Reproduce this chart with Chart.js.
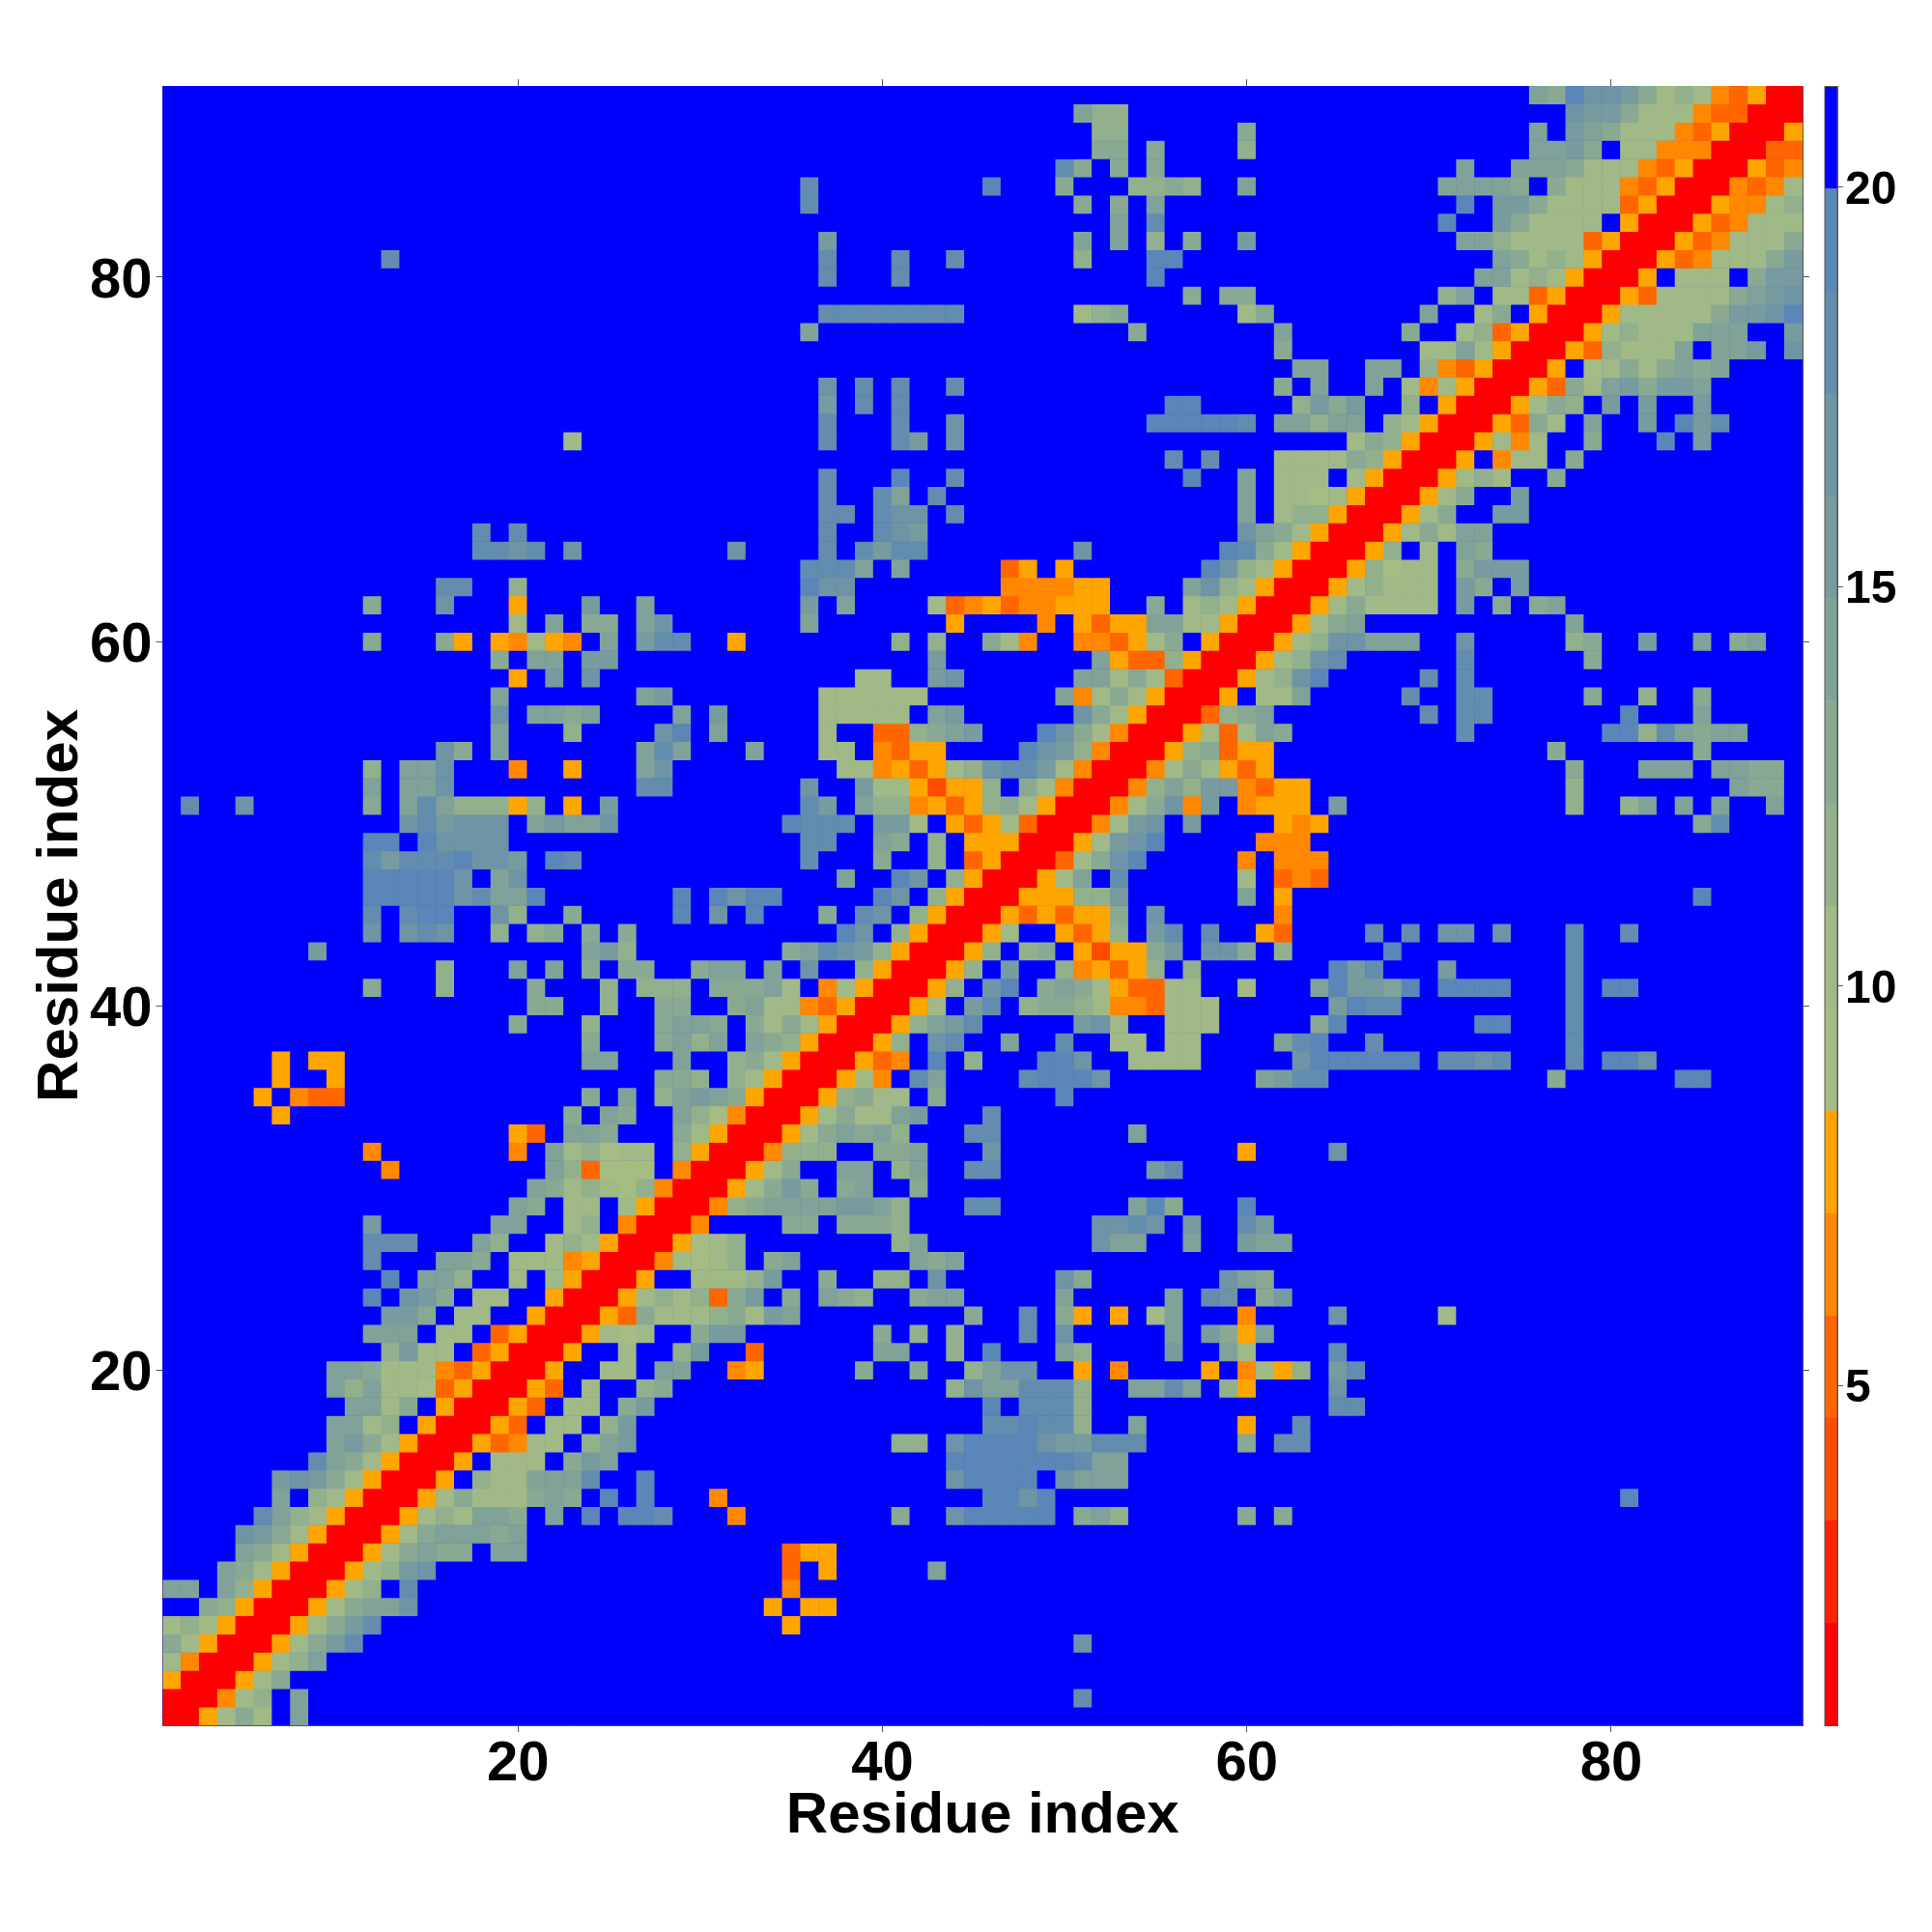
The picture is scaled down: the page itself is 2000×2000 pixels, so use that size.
<!DOCTYPE html>
<html>
<head>
<meta charset="utf-8">
<title>Residue contact map</title>
<script src="https://cdn.jsdelivr.net/npm/chart.js@4/dist/chart.umd.min.js"></script>
<style>
  html, body { margin: 0; padding: 0; background: #fff; }
  #wrap { position: relative; width: 2000px; height: 2000px; }
  #mapChart { position: absolute; left: 0; top: 0; }
  #barChart { position: absolute; left: 1880px; top: 0; }
</style>
</head>
<body>
<div id="wrap">
  <canvas id="mapChart" width="2000" height="2000"></canvas>
  <canvas id="barChart" width="120" height="2000"></canvas>
</div>
<script>
var axisTitle = 'Residue index';
var axisTicks = [20, 40, 60, 80];
var barTicks = [5, 10, 15, 20];

// colour bar bins, bottom to top
var barEdges = [0.74, 2.02, 3.31, 4.59, 5.87, 7.15, 8.44, 9.72, 11, 12.28, 13.57, 14.85, 16.13, 17.41, 18.7, 19.98, 21.26];
var barColors = ['#ff0000', '#ff2400', '#ff4b00', '#ff6600', '#ff8800', '#ffa500', '#a5bd83', '#a0b987',
                 '#93b08d', '#8aa992', '#80a298', '#779b9e', '#6e94a6', '#638dae', '#5a86b8', '#0000ff'];

// one string per residue, bottom row first: "column:bins" (hex bin index), anything not listed is the top bin
var rowBins = [
  '1:005797 8:a',
  '1:000478 8:a 51:d',
  '1:5000579',
  '1:74000578a',
  '1:975000579bd 51:c',
  '1:7875000579bd 35:5',
  '3:985000579aac 34:5 36:55',
  '1:aa 4:a85000578 14:d 35:4',
  '4:a975000578bc 35:3 37:5 43:a',
  '5:a975000579a99 19:aa 35:355',
  '5:cb975000579aaa9a',
  '6:da8750005787aa9 22:a 24:e 26:eed 32:4 41:9 44:ceeeee 51:9a8 60:9 62:9',
  '7:a 9:8750005797779a9 25:e 27:e 31:4 46:eece 81:e',
  '7:bcb9750005 18:877aaad 27:e 44:ceeee 50:caaa',
  '9:da9750005 19:777 23:9ba 44:eeeeeeedaa',
  '10:ab97500053477 24:8ab 41:88 44:ceeeecbbddd 60:9 62:dd',
  '10:aa78 15:500053 22:77 25:8b 46:ddedd8 54:a 60:5 63:d',
  '11:aa79 16:500053 23:77 26:9b 46:e 48:ddd8 65:dd',
  '10:a8a7763500053 24:7 27:89 44:8caaddd8 54:aada 59:85 65:c',
  '10:aa97774350005 25:77 28:aa 32:45 39:9 42:9 45:8acc 51:5 53:4 58:5 60:4758 65:bd',
  '13:8b77 18:350005 26:7 29:8b 33:3 40:aa 44:8 46:e 50:a8 56:b 59:a7 65:d',
  '12:aaa 16:77 19:350005767 30:9bb 40:9 42:8 44:8 48:d 50:c 56:a 58:b95a',
  '13:bb9 17:77 21:5000539777897ba 45:9 48:d 50:95 53:5 55:7a 60:4 65:c 71:7',
  '12:e 14:cb9 18:77 22:50005787839b 35:9 37:a98 42:9aa 50:a 56:a 58:dc 61:9b',
  '13:e 15:aa8 20:7 22:750005 30:7778b 37:9 40:88 43:c 50:c9 59:ca9',
  '12:d 16:aa9 20:7774500047678 34:9a 42:a9a',
  '12:ddd 18:a8 22:78750005678 41:8a 52:caa 57:a 60:baa',
  '12:b 19:aa 23:78 26:40004 35:99 38:9998 52:ccdc 57:b 60:db',
  '20:a9 23:77 26:75000489aaaabba8 45:dd 54:ae9 60:e',
  '21:a9787684000579b9 38:9a 42:9',
  '13:4 22:a83666 29:4000579 38:aa 41:8a 45:dd 55:bd',
  '12:4 20:4 22:a78677 29:850004888 40:99a 46:c 60:5 65:c',
  '20:53 23:aa9 29:975000579a9a8 45:dd 54:a',
  '7:5 23:9 25:a9 29:a86400057977ab 46:d',
  '6:5 8:433 24:9 26:a 28:8aba9500058977 43:9 50:e',
  '7:5 10:5 28:998 32:875000574 42:da 48:deeec 61:abdd 77:9 84:ee',
  '7:5 9:55 24:aa 29:a 32:8975000534 43:e 45:8 49:eec 54:7777 63:ceeeeee 71:ddcd 78:d 80:eec',
  '24:9 28:9a8a 33:a98500058 43:cd 47:a 50:d 53:77 56:77 62:ade 67:d 78:d',
  '20:9 24:8 28:9aa9 33:9797500058abd 51:bc7 56:777 64:9e 73:ee 78:d',
  '21:99 25:8 28:99 32:9a7743500057 45:bd 48:89987443777 65:bedd 78:d',
  '12:9 16:8 21:9 25:8 27:888 31:999a7 37:47500058 46:ce 49:9a9753377 60:7 64:aebbae 71:eeee 78:d 80:ee',
  '16:8 20:a 22:a 24:9 26:99 30:9aa 34:a 36:c 39:8500058 47:b 50:845358 57:8 65:ebd 71:b 78:d',
  '9:b 24:ab8 35:9adcb8500058 48:89 51:52559b 58:cc9 62:8 68:e 78:d',
  '12:c 14:cdc 19:8 21:89 24:9 26:9 38:ec 41:8500057 50:5358 55:bd 58:d 61:53 67:d 69:d 71:cc 74:c 78:d 81:d',
  '12:d 14:dee 19:c8 23:9 29:e 31:c 33:e 37:9 39:dc 42:850005353559 55:c 62:4',
  '12:eeeeecdaae 29:e 31:ecee 40:ec 43:8500055588b 60:a 62:5 85:e',
  '12:eeeeec 19:ac 38:a 41:ec 44:8500057a 53:d 60:7 62:343',
  '12:dbdddeccb 22:ed 36:d 40:9 43:8 45:35000379ce 60:4 62:444',
  '12:ee 15:ecccc 36:dd 40:a9 43:8 45:55500057bce 61:444',
  '14:cdbccc 21:abaac 35:eddd 40:bb7 44:5357300047bc 57:b 62:545 85:9d',
  '2:d 5:c 12:9 14:ada88858 23:5 25:b 36:db 39:a8845358975000479c4b 60:4555 65:b 78:8 81:8a 84:a 86:a 89:a',
  '12:a 14:aac 27:dd 36:c 39:b7752558 48:97400048a8bb4355 78:8 87:a99',
  '12:8 14:aac 20:4 23:5 27:ac 38:77453578cddb740004797535 78:9 82:aaa 86:aa99',
  '16:c9 19:a 27:ada 33:a 37:77 40:4355 48:ecb84000589355 77:9 85:9',
  '19:a 23:8 28:ce 31:a 37:7 40:3389ab 49:ec9740005737a9 72:d 80:ee8da9aa',
  '19:c 21:aa9a 29:a 31:b 37:77777 43:ab 51:c975000389a 70:d 72:dd 81:e 85:a',
  '19:a 27:ab 37:777777 50:a479750005 61:77a 69:d 72:dd 79:9 82:8 85:9',
  '20:5 22:b 24:c 39:77 43:bc 51:aa7973000578ce 70:d 72:d',
  '19:9 21:aa 24:bb 43:b 52:a53385000578cd 72:d 79:9',
  '12:9 16:95 19:54754 25:a 27:bdd 32:5 41:8 43:8 46:974 51:443579 58:5000578ccaaa 72:c 78:89 82:b 85:a 87:9a',
  '20:7 22:a 24:99 27:ac 36:a 44:5 49:4 51:5355aa775000579a 78:a',
  '12:9 16:c 20:5 24:b 27:a 36:b 38:a 43:7345344555 55:9 57:78750005797777 72:b 74:9 76:9a',
  '16:dd 20:8 36:ecc 47:444455 57:ac875000578777 72:b9 75:b',
  '36:ddda 41:a 47:35 50:5 58:ec87500058677 72:9bbb',
  '18:ddcd 23:c 32:c 37:d 39:dbdd 51:c 59:ed97500058 70:7 72:a9',
  '18:d 20:d 37:d 40:dcb 60:ca9750005797aa',
  '37:dd 40:dcc 44:d 60:a 62:7885000579 74:bb',
  '37:d 40:da 43:d 60:a 62:77675000579 75:b',
  '37:d 41:e 44:d 57:e 60:a 62:777 66:750005787 77:9',
  '56:d 58:d 62:77779850005 74:477 78:9',
  '23:7 37:d 41:db 44:c 66:79850005747 79:9 83:e 85:b',
  '37:d 41:d 44:c 55:eeeeed 62:aa8aa 68:8750005397 79:a 82:b 84:ebd',
  '37:b 39:d 41:d 56:ee 63:8b9b 69:8 71:50005798 80:b 82:b 85:b',
  '37:c 39:d 41:d 44:d 62:9 64:a 67:a 69:74750005397ab9bba',
  '63:aa 67:aa 70:84350005 79:67979a9a',
  '62:9 70:77a75000538777a 86:aab 90:c',
  '36:a 54:9 62:a 69:9 72:7835000578777aaa 90:b',
  '37:dddddddd 51:789 60:79 70:a 73:79 76:50005777779bbce',
  '57:9 59:99 71:8a 74:77350005377779abc',
  '37:d 41:d 55:e 73:aa78750005 84:777 88:9bb',
  '13:d 37:d 41:d 44:d 51:8 55:ee 74:a978750005347779b',
  '37:b 51:a 53:a 55:8 57:9 60:b 72:aa87777350005347779',
  '53:a 55:d 71:e 74:b97777 81:5000534777',
  '36:d 51:9 53:9 55:a 72:e 74:bb977773500054478',
  '36:d 46:e 50:9 54:8898 60:a 71:aaaa9 77:97774350004347',
  '50:d9 53:9 55:9 72:a 75:aaa9777435000534',
  '52:99 55:9 60:8 76:aab9 81:7744400033',
  '52:88 60:9 76:a 78:ba97774350005',
  '51:a88 78:cbb9777433000',
  '76:a9eccb978743500'
];

var fontFamily = '"Liberation Sans", Arial, sans-serif';
var frameColor = '#555';

function getCells() {
  var points = [];
  var colors = [];
  rowBins.forEach(function(row, r) {
    var bins = [];
    for (var i = 0; i < rowBins.length; i++) {
      bins.push(15);
    }
    row.split(' ').forEach(function(group) {
      var parts = group.split(':');
      var start = parseInt(parts[0], 10) - 1;
      for (var k = 0; k < parts[1].length; k++) {
        bins[start + k] = parseInt(parts[1][k], 16);
      }
    });
    bins.forEach(function(bin, c) {
      points.push({x: c + 1, y: r + 1});
      colors.push(barColors[bin]);
    });
  });
  return {points: points, colors: colors};
}

function setAxisTicks(values) {
  return function(scale) {
    scale.ticks = values.map(function(v) { return {value: v}; });
  };
}

function axisGrid() {
  return {drawOnChartArea: false, drawTicks: true, tickLength: 7, tickColor: frameColor, tickWidth: 1};
}

// an empty first line pushes a vertical axis label down by half the line height
function lowerLabel(value) {
  return ['', String(value)];
}

function getMapChart() {
  var cells = getCells();
  var labelFont = {family: fontFamily, size: 58, weight: 'bold'};
  var titleFont = {family: fontFamily, size: 60, weight: 'bold'};
  var ctx = document.getElementById('mapChart').getContext('2d');

  new Chart(ctx, {
    type: 'scatter',
    data: {
      datasets: [{
        data: cells.points,
        pointStyle: 'rect',
        pointBackgroundColor: cells.colors,
        pointBorderWidth: 0,
        // cell width from the scale, a hair over so no seams show
        pointRadius: function(c) {
          var s = c.chart.scales.x;
          return (s.getPixelForValue(2) - s.getPixelForValue(1) + 0.5) / Math.SQRT2;
        },
        pointHoverRadius: 0
      }]
    },
    options: {
      responsive: false,
      animation: false,
      events: [],
      layout: {padding: 0},
      plugins: {legend: {display: false}, tooltip: {enabled: false}},
      scales: {
        x: {
          type: 'linear', position: 'bottom', min: 0.5, max: 90.5,
          afterBuildTicks: setAxisTicks(axisTicks),
          afterFit: function(s) { s.height = 214; },
          grid: axisGrid(),
          border: {color: frameColor, width: 1},
          ticks: {font: labelFont, color: '#000', padding: -1, autoSkip: false, maxRotation: 0},
          title: {display: true, text: axisTitle, font: titleFont, color: '#000', padding: {top: 0, bottom: 84}}
        },
        y: {
          type: 'linear', position: 'left', min: 0.5, max: 90.5,
          afterBuildTicks: setAxisTicks(axisTicks),
          afterFit: function(s) { s.width = 168.5; },
          grid: axisGrid(),
          border: {color: frameColor, width: 1},
          ticks: {
            font: {family: fontFamily, size: 58, weight: 'bold', lineHeight: '10px'},
            color: '#000', padding: 4, autoSkip: false, callback: lowerLabel
          },
          title: {display: true, text: axisTitle, font: titleFont, color: '#000', padding: {top: 27, bottom: 0}}
        },
        xTop: {
          type: 'linear', position: 'top', min: 0.5, max: 90.5,
          afterBuildTicks: setAxisTicks(axisTicks),
          afterFit: function(s) { s.height = 89; },
          grid: axisGrid(),
          border: {color: frameColor, width: 1},
          ticks: {display: false}
        },
        yRight: {
          type: 'linear', position: 'right', min: 0.5, max: 90.5,
          afterBuildTicks: setAxisTicks(axisTicks),
          afterFit: function(s) { s.width = 134; },
          grid: axisGrid(),
          border: {color: frameColor, width: 1},
          ticks: {display: false}
        }
      }
    },
    plugins: [{
      id: 'mapBackground',
      beforeDatasetsDraw: function(chart) {
        var a = chart.chartArea;
        chart.ctx.save();
        chart.ctx.fillStyle = barColors[15];
        chart.ctx.fillRect(a.left, a.top, a.right - a.left, a.bottom - a.top);
        chart.ctx.restore();
      }
    }]
  });
}

function getBarChart() {
  var datasets = barColors.map(function(color, i) {
    return {
      data: [[barEdges[i], barEdges[i + 1]]],
      backgroundColor: color,
      borderWidth: 0,
      barPercentage: 1,
      categoryPercentage: 1
    };
  });
  var ctx = document.getElementById('barChart').getContext('2d');

  new Chart(ctx, {
    type: 'bar',
    data: {labels: ['bins'], datasets: datasets},
    options: {
      responsive: false,
      animation: false,
      events: [],
      layout: {padding: {left: 9, top: 89.5, bottom: 213.5}},
      plugins: {legend: {display: false}, tooltip: {enabled: false}},
      scales: {
        x: {display: false, stacked: true},
        y: {
          position: 'right',
          min: barEdges[0],
          max: barEdges[barEdges.length - 1],
          afterBuildTicks: setAxisTicks(barTicks),
          afterFit: function(s) { s.width = 98; },
          grid: {drawOnChartArea: false, tickLength: 6, tickColor: frameColor, tickWidth: 1},
          border: {color: frameColor, width: 1},
          ticks: {
            font: {family: fontFamily, size: 48, weight: 'bold', lineHeight: '8px'},
            color: '#000', padding: 2, autoSkip: false, callback: lowerLabel
          }
        }
      }
    },
    plugins: [{
      id: 'barFrame',
      afterDatasetsDraw: function(chart) {
        var a = chart.chartArea;
        chart.ctx.save();
        chart.ctx.strokeStyle = frameColor;
        chart.ctx.lineWidth = 1;
        chart.ctx.strokeRect(a.left, a.top, a.right - a.left, a.bottom - a.top);
        chart.ctx.restore();
      }
    }]
  });
}

function init() {
  getMapChart();
  getBarChart();
}

init();
</script>
</body>
</html>
